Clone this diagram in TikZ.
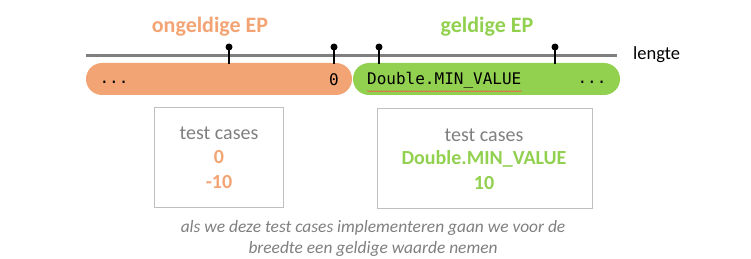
\documentclass[tikz,border=0pt]{standalone}
\usepackage{fontspec}
\setmainfont{Carlito}
\setmonofont{DejaVu Sans Mono}
\usetikzlibrary{decorations.pathmorphing}
\definecolor{badorange}{HTML}{F3A474}
\definecolor{goodgreen}{HTML}{92D050}
\definecolor{axisgray}{HTML}{7F7F7F}
\definecolor{boxgray}{HTML}{BFBFBF}
\definecolor{textgray}{HTML}{7F7F7F}
\begin{document}
\begin{tikzpicture}[x=1pt,y=-1pt,
  bar/.style={rounded corners=16pt, inner sep=0pt},
  pin/.style={line width=2pt, black},
  pinhead/.style={fill=black, circle, inner sep=0pt, minimum size=7pt},
  title/.style={font=\fontsize{22}{26}\selectfont\bfseries},
  mono/.style={font=\fontsize{16}{19}\selectfont\ttfamily, inner sep=0pt},
  casebox/.style={draw=boxgray, line width=0.9pt, inner sep=0pt},
  caseline/.style={font=\fontsize{20}{24}\selectfont, inner sep=0pt},
  casevalue/.style={font=\fontsize{20}{24}\selectfont\bfseries, inner sep=0pt}
]
\useasboundingbox (0,0) rectangle (751,259);

% axis
\coordinate (axL) at (86,56);
\coordinate (axR) at (617,56);
\draw[axisgray, line width=3pt] (axL) -- (axR);
\node[anchor=west, font=\fontsize{18.5}{22}\selectfont, inner sep=0pt] (len) at (633,55) {lengte};

% partitions
\fill[badorange, bar] (86,63) rectangle (352,95);
\fill[goodgreen, bar] (353,63) rectangle (620,95);
\node[mono] (dotsL) at (114,82) {...};
\node[mono] (zero) at (334,80) {0};
\node[mono, anchor=west] (minv) at (367,80) {Double.MIN\_VALUE};
\node[mono] (dotsR) at (592,82) {...};
\draw[red!70, line width=0.5pt, decorate, decoration={snake, amplitude=0.5pt, segment length=2.5pt}]
  (minv.south west) ++(0,3) -- ++(155,0);

% boundary pins
\foreach \px/\nm in {229/pa, 334/pb, 379/pc, 555/pd} {
  \node[pinhead] (\nm) at (\px,47) {};
  \draw[pin] (\nm.center) -- (\px,64);
}

% partition titles
\node[title, text=badorange] (tbad) at (210,27) {ongeldige EP};
\node[title, text=goodgreen] (tgood) at (487,27) {geldige EP};

% test case boxes
\draw[casebox] (154,107) rectangle (283,207);
\draw[casebox] (377,108) rectangle (592,208);
\node[caseline, text=textgray] (l1) at (219,133) {test cases};
\node[casevalue, text=badorange] (l2) at (219,157) {0};
\node[casevalue, text=badorange] (l3) at (219,182) {-10};
\node[caseline, text=textgray] (r1) at (484,135) {test cases};
\node[casevalue, text=goodgreen] (r2) at (484,159) {Double.MIN\_VALUE};
\node[casevalue, text=goodgreen] (r3) at (484,183) {10};

% note
\node[text=textgray, align=center, font=\fontsize{17.4}{21}\selectfont\itshape, inner sep=0pt] (note) at (373,238)
  {als we deze test cases implementeren gaan we voor de\\breedte een geldige waarde nemen};
\end{tikzpicture}
\end{document}
